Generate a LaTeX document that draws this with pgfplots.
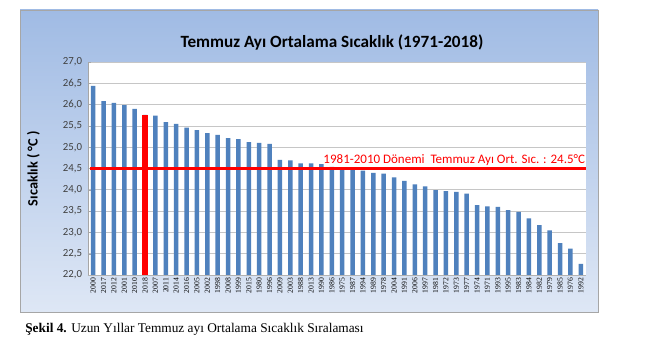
\documentclass[border=0pt]{standalone}
\usepackage{fontspec}
\setmainfont{Liberation Serif}
\newfontfamily\calibri{Carlito}
\usepackage{pgfplots}
\usepackage{pgfplotstable}
\pgfplotsset{compat=1.18}
\definecolor{barblue}{RGB}{79,129,189}
\definecolor{bgtop}{RGB}{160,187,228}
\definecolor{bgbot}{RGB}{222,231,245}
\definecolor{ticktext}{RGB}{64,64,64}
\pgfplotstableread{
idx year temp
0 2000 26.44
1 2017 26.08
2 2012 26.04
3 2001 25.99
4 2010 25.90
5 2018 25.76
6 2007 25.74
7 2011 25.59
8 2014 25.55
9 2016 25.46
10 2005 25.40
11 2002 25.33
12 1998 25.29
13 2008 25.21
14 1999 25.19
15 2015 25.12
16 1980 25.10
17 1996 25.08
18 2009 24.70
19 2003 24.69
20 1988 24.62
21 2013 24.62
22 1990 24.60
23 1986 24.54
24 1975 24.48
25 1987 24.47
26 1994 24.45
27 1989 24.40
28 1978 24.38
29 2004 24.29
30 1991 24.21
31 2006 24.13
32 1997 24.08
33 1981 23.99
34 1972 23.97
35 1973 23.95
36 1977 23.91
37 1974 23.64
38 1971 23.61
39 1993 23.60
40 1995 23.52
41 1983 23.48
42 1984 23.33
43 1982 23.17
44 1979 23.05
45 1985 22.75
46 1976 22.62
47 1992 22.26
}\data
\pgfplotstableread{
idx temp
5 25.76
}\redbar
\begin{document}
\begin{tikzpicture}
\path (0,0) rectangle (394.8pt,213.6pt);
\shade[top color=bgtop, bottom color=bgbot] (12pt,26.4pt) rectangle (358.8pt,207.6pt);
\draw[gray!70, line width=0.5pt] (12pt,26.4pt) rectangle (358.8pt,207.6pt);
\node[font=\calibri\bfseries\fontsize{10.3}{12}\selectfont] at (199.2pt,188.4pt) {Temmuz Ayı Ortalama Sıcaklık (1971-2018)};
\node[anchor=base west, font=\fontsize{8}{9.6}\selectfont, inner sep=0pt] at (15pt,14pt) {\textbf{Şekil 4.} Uzun Yıllar Temmuz ayı Ortalama Sıcaklık Sıralaması};
\begin{axis}[
  at={(52.8pt,48.6pt)}, anchor=south west,
  scale only axis, width=298.8pt, height=127.8pt,
  axis background/.style={fill=white},
  xmin=-0.5, xmax=47.5, ymin=22, ymax=27,
  ytick={22,22.5,...,27},
  xtick=data,
  xticklabels from table={\data}{year},
  x tick label style={rotate=90, anchor=east, font=\fontsize{4.6}{5}\selectfont, inner sep=1.5pt},
  y tick label style={font=\calibri\fontsize{6.5}{7}\selectfont, text=ticktext},
  /pgf/number format/.cd, fixed, fixed zerofill, precision=1, use comma, assume math mode=true,
  /pgfplots/.cd,
  ymajorgrids, grid style={gray!45, line width=0.4pt},
  axis x line*=bottom, axis y line*=left,
  axis line style={gray!70},
  x axis line style={gray!60},
  tick style={gray!70},
  major tick length=2pt,
  xtick style={draw=none},
  ylabel={Sıcaklık ( °C )},
  ylabel style={font=\calibri\bfseries\fontsize{8.6}{10}\selectfont, at={(axis description cs:-0.085,0.5)}},
  clip=false,
]
\addplot[ybar, bar width=2.7pt, bar shift=0pt, fill=barblue, draw=none] table[x=idx, y=temp] {\data};
\addplot[ybar, bar width=3.3pt, bar shift=0pt, fill=red, draw=none] table[x=idx, y=temp] {\redbar};
\addplot[red, line width=1.6pt] coordinates {(-0.3,24.5) (47.5,24.5)};
\node[anchor=south east, text=red, font=\calibri\fontsize{7.8}{9}\selectfont, inner sep=1pt] at (axis cs:47.6,24.52) {1981-2010 Dönemi\ \ Temmuz Ayı Ort. Sıc. : 24.5°C};
\end{axis}
\end{tikzpicture}
\end{document}
